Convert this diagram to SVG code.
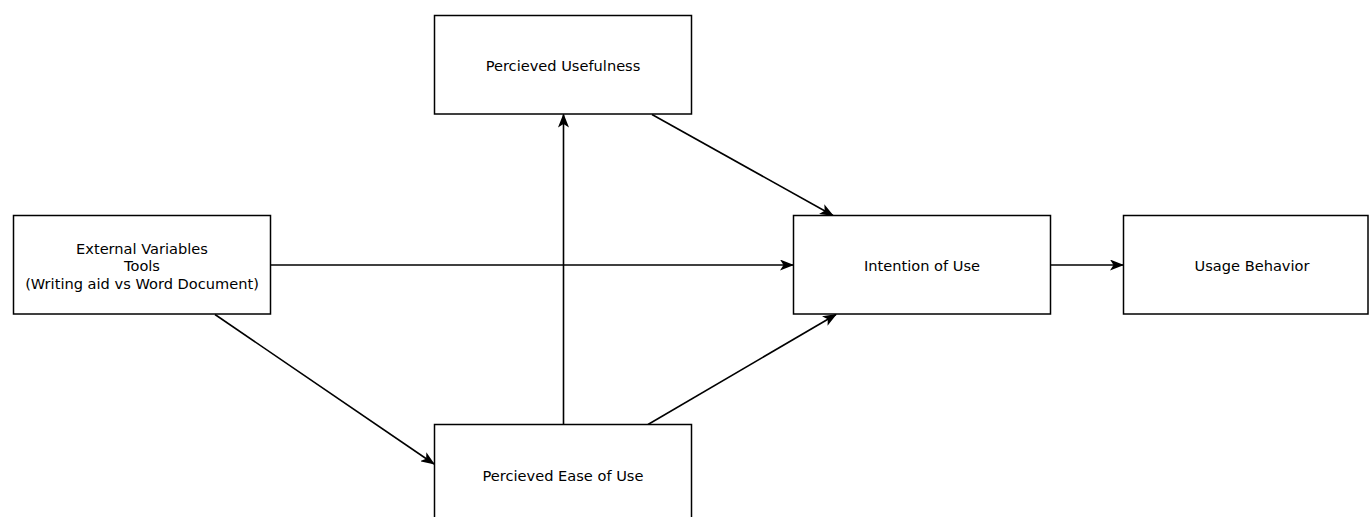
<svg xmlns="http://www.w3.org/2000/svg" width="1369" height="517" viewBox="0 0 1369 517">
<defs>
<style>
.box{fill:#fff;stroke:#000;stroke-width:1.5}
.lbl{font-family:"DejaVu Sans",sans-serif;font-size:14.6px;fill:#000;text-anchor:middle;dominant-baseline:central}
.edge{fill:none;stroke:#000;stroke-width:1.6}
</style>
<marker id="arr" viewBox="0 0 14 11" refX="13" refY="5.5" markerWidth="14" markerHeight="11" markerUnits="userSpaceOnUse" orient="auto">
<path d="M0,0 L14,5.5 L0,11 L3.5,5.5 Z" fill="#000"/>
</marker>
</defs>
<rect width="1369" height="517" fill="#fff"/>
<g id="connectors">
<path class="edge" d="M271,265 L793,265" marker-end="url(#arr)"/>
<path class="edge" d="M215,314.5 L434,464" marker-end="url(#arr)"/>
<path class="edge" d="M563.5,424.5 L563.5,114.5" marker-end="url(#arr)"/>
<path class="edge" d="M652,114.5 L833,215.5" marker-end="url(#arr)"/>
<path class="edge" d="M648,424.5 L836,314.5" marker-end="url(#arr)"/>
<path class="edge" d="M1051,265 L1123,265" marker-end="url(#arr)"/>
</g>
<g id="usefulness">
<rect class="box" x="434.5" y="15.5" width="257" height="98.5"/>
<text class="lbl" x="563" y="65">Percieved Usefulness</text>
</g>
<g id="external">
<rect class="box" x="13.5" y="215.5" width="257" height="98.5"/>
<text class="lbl" x="142" y="248">External Variables</text>
<text class="lbl" x="142" y="265.5">Tools</text>
<text class="lbl" x="142" y="283">(Writing aid vs Word Document)</text>
</g>
<g id="intention">
<rect class="box" x="793.5" y="215.5" width="257" height="98.5"/>
<text class="lbl" x="922" y="265">Intention of Use</text>
</g>
<g id="usage">
<rect class="box" x="1123.5" y="215.5" width="244.5" height="98.5"/>
<text class="lbl" x="1252" y="265">Usage Behavior</text>
</g>
<g id="ease">
<rect class="box" x="434.5" y="424.5" width="257" height="98.5"/>
<text class="lbl" x="563" y="475">Percieved Ease of Use</text>
</g>
</svg>
